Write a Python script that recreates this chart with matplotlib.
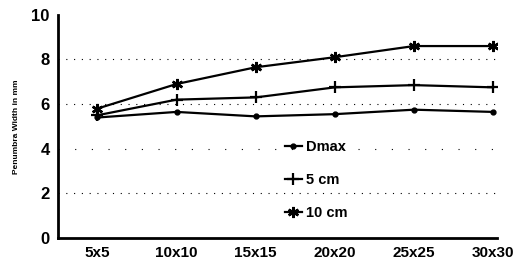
import matplotlib.pyplot as plt

# field sizes and penumbra widths (mm)
field_sizes = ["5x5", "10x10", "15x15", "20x20", "25x25", "30x30"]
dmax = [5.4, 5.65, 5.45, 5.55, 5.75, 5.65]
cm5 = [5.5, 6.2, 6.3, 6.75, 6.85, 6.75]
cm10 = [5.8, 6.9, 7.65, 8.1, 8.6, 8.6]
grid_levels = [2, 4, 6, 8]

plt.rcParams['font.family'] = ['Liberation Sans', 'DejaVu Sans']
plt.rcParams['font.weight'] = 'bold'

fig = plt.figure(figsize=(5.31, 2.69), dpi=100)
ax = fig.add_axes([0.109, 0.115, 0.827, 0.83])

x = list(range(len(field_sizes)))

# sparse dotted grid lines
for g in grid_levels:
    dash = (0, (1, 14)) if g == 4 else (0, (1, 6))
    ax.axhline(g, color='black', lw=0.8, ls=dash, zorder=0)

ax.plot(x, dmax, color='black', lw=1.6, marker='o', ms=3.5, label='Dmax')
ax.plot(x, cm5, color='black', lw=1.6, marker='+', ms=9, mew=1.6, label='5 cm')
ax.plot(x, cm10, color='black', lw=1.6, marker=(6, 2, 0), ms=8, mew=1.8, label='10 cm')

ax.set_xlim(-0.5, 5.05)
ax.set_ylim(0, 10)
ax.set_xticks(x)
ax.set_xticklabels(field_sizes, fontsize=11, fontweight='bold')
ax.set_yticks([0, 2, 4, 6, 8, 10])
ax.set_yticklabels(['0', '2', '4', '6', '8', '10'], fontsize=12, fontweight='bold')
ax.tick_params(length=0, pad=6)

for s in ['top', 'right']:
    ax.spines[s].set_visible(False)
for s in ['left', 'bottom']:
    ax.spines[s].set_linewidth(2)

ax.set_ylabel("Penumbra Width in mm", fontsize=6, fontweight='bold', labelpad=8)

leg = ax.legend(loc='upper left', bbox_to_anchor=(0.505, 0.465), frameon=False,
                fontsize=10.5, handlelength=1.1, handletextpad=0.3, labelspacing=1.3,
                borderaxespad=0)
for t in leg.get_texts():
    t.set_fontweight('bold')

plt.savefig("out.png", dpi=100)
